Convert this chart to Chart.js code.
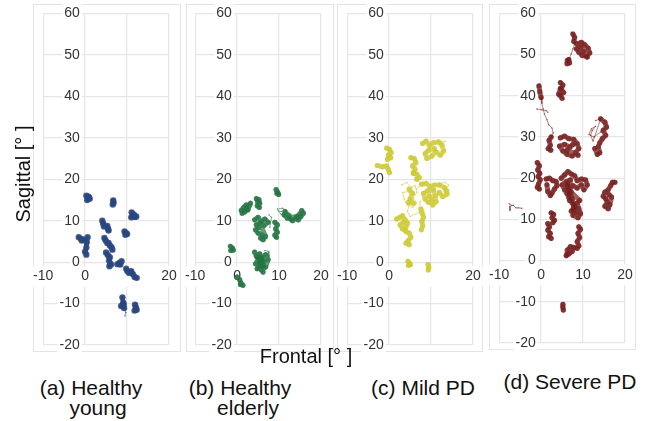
<!DOCTYPE html>
<html>
<head>
<meta charset="utf-8">
<script src="https://cdn.jsdelivr.net/npm/chart.js@4.4.1/dist/chart.umd.min.js"></script>
<style>
  body { margin: 0; background: #fff; }
  #wrap { position: relative; width: 651px; height: 421px; overflow: hidden; font-family: "Liberation Sans", Arial, sans-serif; }
  .frame { position: absolute; border: 1px solid #e4e4e4; box-sizing: border-box; }
  canvas { position: absolute; top: 0; }
  .txt { position: absolute; white-space: pre; color: #111; text-align: center; }
</style>
</head>
<body>
<div id="wrap">
  <div class="frame" style="left:33px;top:4px;width:148px;height:348px"></div>
  <div class="frame" style="left:186px;top:4px;width:148px;height:348px"></div>
  <div class="frame" style="left:337px;top:4px;width:146px;height:348px"></div>
  <div class="frame" style="left:489px;top:4px;width:147px;height:346px"></div>

  <canvas id="c1" width="158" height="362" style="left:27px"></canvas>
  <canvas id="c2" width="158" height="362" style="left:179px"></canvas>
  <canvas id="c3" width="158" height="362" style="left:331px"></canvas>
  <canvas id="c4" width="158" height="362" style="left:483px"></canvas>

  <div class="txt" style="left:-77px;top:164px;width:200px;font-size:20px;line-height:20px;transform:rotate(-90deg)">Sagittal [° ]</div>
  <div class="txt" style="left:206px;top:346px;width:200px;font-size:20px;line-height:20px">Frontal [° ]</div>

  <div class="txt" style="left:-9px;top:377px;width:200px;font-size:21px;line-height:21px">(a) Healthy</div>
  <div class="txt" style="left:-2px;top:397px;width:200px;font-size:21px;line-height:21px">young</div>
  <div class="txt" style="left:140px;top:377px;width:200px;font-size:21px;line-height:21px">(b) Healthy</div>
  <div class="txt" style="left:148px;top:397px;width:200px;font-size:21px;line-height:21px">elderly</div>
  <div class="txt" style="left:323px;top:377px;width:200px;font-size:21px;line-height:21px">(c) Mild PD</div>
  <div class="txt" style="left:470px;top:371px;width:200px;font-size:21px;line-height:21px">(d) Severe PD</div>
</div>

<script>
// axis ranges and ticks (degrees)
const xRange = [-10, 20];
const yRange = [-20, 60];
const tickStep = 10;

// gaze traces, [frontal, sagittal] per point
// "clusters" are the dense fixation blobs, "trails" the thin drifts between them
const youngClusters = [
  [[0.3,16],[0.8,15.8],[1.1,15.3],[0.5,15],[0.9,15.6]],
  [[6.7,14.9],[6.8,14.3],[6.6,13.9]],
  [[11.1,12],[11.4,11.2],[11.9,10.9],[11.0,10.8],[11.6,11.5],[12.2,11]],
  [[4.1,10],[4.3,9.3],[4.5,8.6]],
  [[5.3,8.7],[5.5,8.0],[5.6,7.6]],
  [[9.4,7.4],[9.8,7.0],[9.6,6.6],[10,6.8]],
  [[-1.5,6],[-0.9,5.6],[-0.3,5.4],[-0.8,5.2]],
  [[0.6,6.0],[0.4,4.8],[0.3,3.5],[0.0,2.5],[0.3,1.8]],
  [[4.6,5.8],[4.9,5.2],[5.3,4.6]],
  [[5.6,4.6],[5.9,4.0],[6.3,3.6],[6.5,3.0]],
  [[5.0,2.3],[5.4,1.7],[5.9,1.2]],
  [[5.7,0.4],[6.0,-0.3],[5.8,-1.0],[6.2,-0.6]],
  [[7.7,-0.5],[8.2,-0.2],[8.7,0.2],[8.4,-0.6]],
  [[9.8,-1.6],[10.1,-2.2],[10.5,-2.6]],
  [[11.0,-2.2],[11.4,-2.9],[11.8,-3.6],[12.3,-3.8]],
  [[8.9,-8.5],[9.1,-9.8],[8.6,-10.6],[9.3,-11.1],[9.2,-10.2]],
  [[11.9,-10.3],[12.1,-11],[11.8,-11.7],[12.3,-11.5]]
];
const youngTrails = [
  [[9.3,-11.1],[9.7,-12.2],[9.5,-13]]
];

const elderlyClusters = [
  [[9.3,17.5],[9.7,16.8],[9.9,16.3],[9.5,16.6]],
  [[1.0,12.5],[1.6,13.2],[2.2,13.8],[2.8,13.6],[3.2,14.2],[2.6,12.6],[1.8,12.1],[1.2,11.8],[2.2,12.8]],
  [[4.6,15.3],[5.2,15.1],[5.4,14.2],[4.8,13.6],[5.3,13.2],[4.9,14.5]],
  [[11.4,12.2],[12.4,11.2],[12.8,10.4],[13.2,10.0],[14.0,10.6],[14.6,10.2],[15.2,11.0],[15.8,11.8],[15.4,12.4],[14.8,11.4],[14.2,11.0],[12.0,10.6],[11.2,11.4]],
  [[4.2,10.2],[5.0,10.8],[5.8,9.8],[6.6,10.4],[7.4,9.6],[6.4,8.8],[5.2,8.4],[4.4,7.8],[5.0,7.0],[6.0,6.6],[5.6,5.8],[6.2,5.4],[6.8,6.2],[5.4,9.4],[4.6,9.0]],
  [[9.0,9.6],[9.6,9.0],[9.2,8.0],[9.6,7.2],[9.0,6.5],[9.4,6.0]],
  [[-1.6,3.8],[-1.1,3.4],[-1.5,2.8],[-0.9,2.9]],
  [[4.2,2.4],[4.6,1.4],[5.4,2.0],[5.0,0.6],[4.4,-0.4],[5.6,-0.8],[6.4,0.2],[6.0,1.2],[6.8,1.8],[7.4,0.6],[6.8,-1.2],[5.8,-1.8],[5.2,-1.2],[6.2,-2.4],[5.6,0.2],[4.8,-1.6]],
  [[5.0,1.2],[5.8,0.8],[6.2,-1.0],[5.4,-0.2]],
  [[0.0,-3.6],[0.6,-4.2],[0.9,-5.0],[1.4,-5.6],[0.8,-5.4]]
];
const elderlyTrails = [
  [[9.6,12.8],[10.8,13.0],[11.6,12.6],[12.0,11.8],[11.2,11.0],[10.4,11.6],[9.8,12.4],[10.6,12.2]],
  [[7.8,8.4],[8.2,10.8],[7.6,11.4]],
  [[6.6,2.8],[7.4,2.6],[7.6,1.4]]
];

const mildClusters = [
  [[-0.6,27.5],[0.1,27.2],[0.5,26.4],[-0.2,25.8],[0.4,25.2],[-0.4,24.8]],
  [[-2.8,23.3],[-1.6,23.0],[-0.6,23.2],[-0.2,22.4],[0.1,21.6]],
  [[8.0,28.6],[8.8,29.2],[9.6,28.2],[10.6,28.8],[11.8,29.0],[12.6,28.2],[13.0,26.8],[12.2,25.8],[11.2,26.6],[10.2,25.6],[9.0,25.0],[8.6,26.2],[9.4,27.0],[10.8,27.4]],
  [[5.2,25.2],[6.0,25.0],[6.4,24.0],[5.6,23.2],[6.2,22.4],[5.8,21.6]],
  [[5.8,21.4],[6.6,21.2],[7.2,20.4],[6.6,20.0]],
  [[7.8,18.8],[8.8,19.0],[9.8,18.2],[10.8,18.6],[12.0,18.6],[13.2,18.0],[13.6,17.2],[13.8,16.4],[12.8,15.8],[12.0,16.8],[11.0,16.0],[10.2,15.0],[9.4,14.4],[8.6,15.2],[8.2,16.6],[9.2,17.2],[10.6,17.4],[11.2,14.6],[10.4,13.8],[9.6,16.0]],
  [[7.6,12.8],[7.9,11.8],[8.2,10.8],[7.8,9.8],[8.0,8.8],[7.7,7.8]],
  [[1.8,10.4],[2.6,10.8],[3.2,11.2],[3.8,10.2],[4.4,9.4],[4.0,8.4],[3.2,8.0],[2.6,9.0],[3.4,9.6]],
  [[4.0,7.4],[4.8,7.0],[5.2,6.0],[4.6,5.2],[4.0,4.6],[4.8,4.2]],
  [[4.5,0.2],[4.9,-0.3],[4.6,-0.8],[5.1,-0.6]],
  [[9.3,-0.6],[9.5,-1.3],[9.3,-1.9]],
  [[4.8,17.6],[5.6,16.6],[5.0,15.2],[5.8,14.2],[4.6,14.4]]
];
const mildTrails = [
  [[3.0,18.6],[4.2,19.2],[5.4,18.0],[6.2,18.4],[6.6,16.8],[5.8,15.4],[6.6,14.2],[5.6,13.2],[4.4,13.8],[3.6,15.2],[3.2,16.8],[4.6,17.0],[5.2,15.8],[4.4,12.2],[5.0,11.0],[7.2,12.0],[7.4,14.6]],
  [[12.0,19.0],[13.4,19.2],[14.2,18.6],[13.6,17.6]],
  [[11.8,29.0],[13.4,29.2],[12.8,28.6]],
  [[6.8,20.2],[7.4,18.6],[6.6,17.6]]
];

const severeClusters = [
  [[7.6,55.0],[8.0,54.2],[7.8,53.2],[8.6,52.6],[9.6,53.0],[10.4,52.4],[11.2,51.6],[11.6,50.4],[10.8,49.6],[9.8,49.8],[9.0,50.6],[8.4,51.4],[9.4,51.8],[10.2,50.8],[11.0,49.4]],
  [[6.4,48.6],[6.2,47.8],[6.8,48.0],[6.6,48.8]],
  [[4.6,43.2],[5.2,42.6],[4.8,41.6],[5.4,40.8],[4.6,40.2],[5.0,39.4],[4.2,40.4],[4.6,41.8]],
  [[2.4,30.0],[1.9,29.2],[2.2,28.0],[1.7,27.2],[2.3,26.8]],
  [[-0.5,42.4],[-0.3,41.0],[0.0,39.6]],
  [[4.6,29.8],[5.6,30.2],[6.6,29.6],[7.8,29.4],[8.6,28.4],[9.0,27.2],[8.2,26.2],[7.4,25.4],[6.2,25.8],[5.2,26.6],[4.4,27.8],[5.6,28.2],[6.8,27.6],[7.6,28.2],[6.2,26.8],[8.8,25.6]],
  [[14.2,34.4],[15.2,33.6],[15.6,32.4],[14.8,31.6],[15.4,30.4],[14.6,29.6],[14.0,28.6],[13.6,27.6],[14.0,26.2],[13.4,25.8],[12.8,27.2]],
  [[-0.9,23.8],[-0.4,23.0],[-0.8,22.0],[-0.3,21.2],[-0.7,20.4],[-0.2,19.6],[-0.6,18.6],[-0.9,17.8],[-0.4,17.4]],
  [[1.2,19.8],[2.0,20.0],[2.8,19.4],[3.6,19.2],[3.8,18.2],[3.2,17.4],[2.6,16.4],[2.2,15.8],[1.6,16.8],[1.4,18.4]],
  [[4.8,20.0],[5.6,20.8],[6.4,21.6],[7.2,21.0],[8.0,20.6],[8.6,19.4],[9.6,19.8],[10.6,19.6],[11.0,18.4],[10.2,17.2],[9.6,18.4],[8.6,17.6],[7.6,18.2],[6.8,17.4],[6.2,16.2],[5.6,17.2],[5.0,18.4],[6.0,19.2],[7.0,19.6],[6.6,15.4],[6.8,14.6],[7.6,13.8],[8.2,13.0],[7.8,12.2],[8.4,11.6],[7.6,11.0],[8.8,10.4],[9.4,11.4],[9.0,12.6],[8.6,14.0],[9.2,14.6],[7.2,16.6],[6.4,18.6]],
  [[6.2,18.2],[6.8,16.4],[7.4,15.0],[7.8,13.0],[7.2,12.0]],
  [[17.6,19.0],[17.0,19.0],[16.6,18.2],[16.0,17.2],[15.2,16.6],[14.8,15.6],[15.4,15.0],[15.8,14.2],[15.2,13.2],[16.0,12.6],[16.4,13.6],[16.8,15.4],[16.2,16.0]],
  [[2.4,11.6],[3.0,11.2],[2.6,10.4],[3.2,9.8],[2.8,9.2]],
  [[1.6,9.0],[2.0,8.2],[1.6,7.4],[2.2,6.6],[1.8,5.8],[2.4,5.4]],
  [[9.0,8.2],[9.4,7.6],[8.8,6.6],[9.2,5.6],[8.6,4.6],[9.0,3.6],[8.6,3.0]],
  [[6.0,1.2],[6.6,1.6],[7.4,2.2],[7.8,3.2],[7.0,3.4],[6.4,2.6],[6.2,1.6]],
  [[5.2,-10.6],[5.2,-11.3],[5.3,-12]]
];
const severeTrails = [
  [[7.2,55.4],[7.6,55.0],[8.0,52.6],[7.6,51.4],[7.2,50.2],[6.8,49.2],[6.4,48.6]],
  [[0.0,39.6],[0.2,38.2],[0.5,36.8],[0.8,35.6],[1.4,34.2],[1.8,33.0],[2.6,32.2],[2.9,31.0],[2.4,30.0]],
  [[-1.0,36.8],[0.2,36.6],[1.2,36.4],[1.6,36.0]],
  [[13.0,34.0],[14.2,34.4],[12.4,29.0],[11.8,30.4],[12.2,31.6],[13.0,32.6],[12.0,32.0],[11.4,30.6],[12.6,30.0],[14.2,31.2]],
  [[-7.6,13.8],[-7.0,13.4],[-6.6,13.4],[-6.0,12.8],[-5.4,12.8],[-4.6,12.7]],
  [[-7.4,13.2],[-7.4,12.2]]
];

const gridColor = '#e6e6e6';

function traceSets(traces, rgb, w, r, a) {
  return traces.map(t => ({
    data: t.map(p => ({x: p[0], y: p[1]})),
    showLine: true,
    borderColor: 'rgba(' + rgb + ',' + a + ')',
    borderWidth: w,
    borderJoinStyle: 'round',
    borderCapStyle: 'round',
    backgroundColor: 'rgba(' + rgb + ',' + a + ')',
    pointRadius: r,
    pointBorderWidth: 0
  }));
}

function makePanel(id, clusters, trails, rgb, opts) {
  const ctx = document.getElementById(id);
  new Chart(ctx, {
    type: 'scatter',
    data: {
      datasets: traceSets(trails, rgb, 1, 0.8, 0.55)
        .concat(traceSets(clusters, rgb, opts.lineWidth, opts.radius, opts.alpha))
    },
    options: {
      responsive: false,
      animation: false,
      layout: { padding: { left: 16, right: 16, top: 12, bottom: opts.bottom } },
      plugins: { legend: { display: false }, tooltip: { enabled: false } },
      scales: {
        x: {
          type: 'linear', min: xRange[0], max: xRange[1],
          position: { y: 0 },
          grid: { color: gridColor, lineWidth: 1.2, drawTicks: false },
          border: { display: false },
          ticks: {
            stepSize: tickStep, padding: 6, color: '#333',
            font: { family: 'Liberation Sans', size: 14 },
            showLabelBackdrop: true, backdropColor: '#fff', backdropPadding: 2,
            callback: v => opts.hideX.includes(v) ? '' : v
          }
        },
        y: {
          type: 'linear', min: yRange[0], max: yRange[1],
          // labels sit a little left of the zero line
          position: { x: -1.25 },
          grid: { color: gridColor, lineWidth: 1.2, drawTicks: false },
          border: { display: false },
          ticks: {
            stepSize: tickStep, padding: 5, color: '#333',
            font: { family: 'Liberation Sans', size: 14 },
            showLabelBackdrop: true, backdropColor: '#fff', backdropPadding: 2
          }
        }
      }
    }
  });
}

makePanel('c1', youngClusters, youngTrails, '42,70,128', { radius: 3.2, lineWidth: 4.5, alpha: 0.85, bottom: 17, hideX: [10] });
makePanel('c2', elderlyClusters, elderlyTrails, '35,115,65', { radius: 2.6, lineWidth: 5, alpha: 0.7, bottom: 17, hideX: [] });
makePanel('c3', mildClusters, mildTrails, '204,200,45', { radius: 2.6, lineWidth: 5, alpha: 0.65, bottom: 17, hideX: [10] });
makePanel('c4', severeClusters, severeTrails, '118,28,28', { radius: 2.6, lineWidth: 5, alpha: 0.7, bottom: 19, hideX: [] });
</script>
</body>
</html>
